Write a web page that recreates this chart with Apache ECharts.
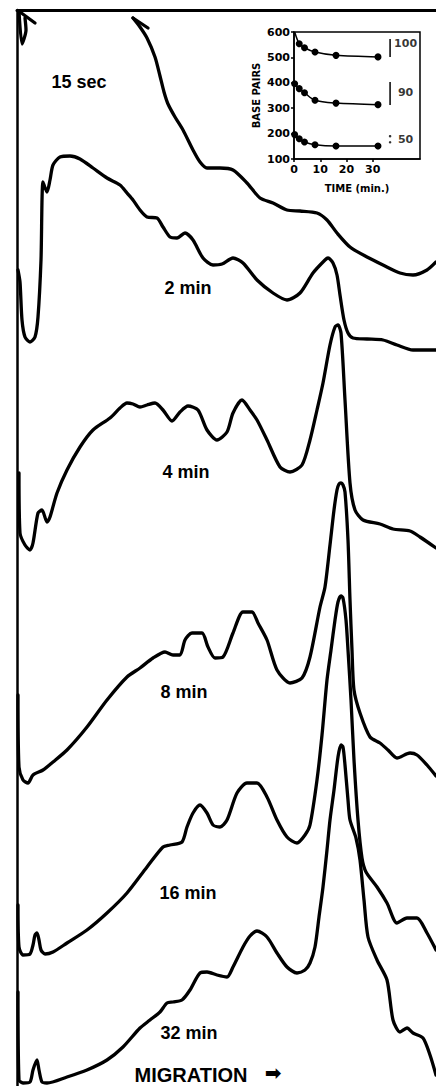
<!DOCTYPE html>
<html>
<head>
<meta charset="utf-8">
<script src="https://cdn.jsdelivr.net/npm/echarts@6/dist/echarts.min.js"></script>
<style>
html,body{margin:0;padding:0;background:#fff;}
#chart{width:436px;height:1086px;}
</style>
</head>
<body>
<div id="chart"></div>
<script>
// ---- Densitometer traces: [migration position, stacked signal] (arbitrary scan units) ----
const trace15s = [[116,1068],[123,1059],[130,1048],[138,1029],[143,1010],[147,994],[151,982],[158,969],[166,956],[176,936],[183,924],[190,918],[203,918],[216,916],[230,903],[243,888],[256,883],[270,876],[283,875],[300,873],[310,866],[320,853],[333,839],[350,829],[366,821],[383,813],[396,811],[410,816],[419,824]];
const trace15sArrow = [[116,1068],[131,1058]];
const trace15sStart = [[2,1075],[5,1042],[9,1056],[8,1068]];
const trace15sStartTick = [[3,1074],[18,1063]];
const trace2m = [[1,816],[3,804],[5,766],[8,749],[13,744],[18,749],[21,769],[24,826],[26,904],[30,894],[33,906],[36,921],[43,929],[53,930],[63,927],[76,918],[90,908],[103,901],[110,893],[116,886],[123,876],[130,869],[140,868],[146,859],[153,849],[160,848],[168,853],[176,846],[186,828],[196,821],[205,822],[216,828],[226,823],[240,806],[256,793],[270,786],[283,793],[296,813],[308,826],[311,828],[316,823],[320,811],[323,791],[327,766],[331,753],[336,748],[350,747],[366,746],[380,741],[396,736],[419,736]];
const trace4m = [[2,613],[3,553],[8,541],[13,536],[16,543],[21,573],[25,576],[30,564],[33,569],[40,593],[50,616],[63,639],[76,656],[93,668],[103,678],[110,683],[116,682],[123,679],[130,681],[138,683],[146,676],[155,665],[163,674],[171,680],[181,676],[190,656],[200,646],[210,654],[216,673],[225,686],[233,676],[240,666],[250,646],[263,619],[273,614],[285,621],[293,646],[300,676],[306,703],[313,741],[318,759],[321,761],[324,753],[328,686],[333,603],[338,576],[346,566],[363,562],[376,557],[393,555],[403,549],[419,538]];
const trace8m = [[1,391],[2,319],[6,306],[11,303],[16,311],[26,316],[36,324],[50,336],[70,359],[90,386],[110,409],[123,418],[136,428],[148,434],[156,431],[163,431],[168,446],[175,453],[185,453],[191,439],[198,428],[206,429],[216,453],[226,474],[235,474],[241,463],[250,446],[260,416],[273,403],[285,408],[293,429],[303,479],[308,499],[313,541],[317,576],[320,596],[322,602],[324,603],[326,601],[328,594],[331,546],[333,486],[335,436],[337,396],[343,373],[353,349],[363,343],[371,336],[380,328],[393,333],[400,331],[410,321],[419,310]];
const trace16m = [[1,181],[2,139],[6,131],[13,132],[16,141],[18,151],[20,153],[22,146],[24,136],[28,132],[36,134],[50,143],[70,156],[90,173],[110,193],[130,219],[146,239],[153,241],[165,244],[170,259],[176,273],[183,281],[190,273],[196,261],[203,259],[210,266],[220,293],[230,303],[240,303],[250,289],[260,266],[270,249],[280,243],[288,251],[293,261],[300,306],[305,351],[310,406],[314,436],[318,466],[321,484],[324,490],[326,488],[329,466],[331,436],[334,386],[337,326],[341,266],[345,228],[349,214],[360,199],[370,183],[380,163],[390,168],[400,168],[410,153],[419,136]];
const trace32m = [[1,94],[2,6],[6,3],[13,4],[16,16],[20,26],[22,16],[25,4],[30,3],[50,9],[70,16],[90,26],[106,39],[123,58],[133,66],[143,74],[150,83],[156,84],[165,86],[173,96],[183,113],[190,114],[200,111],[210,109],[216,119],[226,139],[233,150],[240,155],[250,149],[260,133],[270,119],[280,113],[288,116],[293,123],[298,139],[302,169],[306,199],[310,236],[313,266],[317,296],[321,329],[324,341],[326,339],[328,321],[331,286],[333,266],[339,248],[343,226],[347,186],[351,149],[360,126],[370,106],[376,66],[383,54],[390,58],[396,53],[406,48],[413,31],[419,11]];

// ---- Inset: fragment size (base pairs) vs time (min) ----
const insetTimes = [0.25, 2, 4, 8, 16, 32];
const bp100 = [600, 554, 538, 521, 508, 502];
const bp90  = [396, 377, 361, 331, 320, 314];
const bp50  = [196, 180, 167, 156, 151, 151];
const insetXTicks = [0, 10, 20, 30];
const bandLabels = ['100', '90', '50'];
const bandLabelBp = [555, 360, 175];
const band100 = [[36.6, 572], [36.6, 502]];
const band90 = [[36.6, 403], [36.6, 313]];
const band50 = [[36.6, 190], [36.6, 166]];

const traceLabels = ['15 sec', '2 min', '4 min', '8 min', '16 min', '32 min'];

function pairs(xs, ys, firstNoSymbol) {
  return xs.map((x, i) => (firstNoSymbol && i === 0) ? { value: [x, ys[i]], symbol: 'none' } : [x, ys[i]]);
}

const traceStyle = { color: '#000', width: 3.3, cap: 'round', join: 'round' };
function trace(name, data) {
  return { name, type: 'line', xAxisIndex: 0, yAxisIndex: 0, data, showSymbol: false, symbol: 'none',
    smooth: 0.25, clip: false, lineStyle: traceStyle, silent: true, animation: false };
}
function insetLine(data) {
  return { type: 'line', xAxisIndex: 1, yAxisIndex: 1, data, symbol: 'circle', symbolSize: 7,
    itemStyle: { color: '#000' }, lineStyle: { color: '#000', width: 1.5 }, smooth: 0.3, animation: false, clip: false };
}

const chart = echarts.init(document.getElementById('chart'), null, { renderer: 'svg' });
const lblFont = 'bold 18px "Liberation Sans", Arial, sans-serif';
const labelPos = [[79,82],[188,288],[186,472],[184,692],[188,893],[189,1033]];
const graphics = traceLabels.map((t, i) => ({
  type: 'text', x: labelPos[i][0], y: labelPos[i][1],
  style: { text: t, font: lblFont, fill: '#000', align: 'center', verticalAlign: 'middle' }
}));
graphics.push({ type: 'text', x: 191, y: 1075, style: { text: 'MIGRATION', font: 'bold 20px "Liberation Sans", Arial, sans-serif', fill: '#000', align: 'center', verticalAlign: 'middle' } });
graphics.push({ type: 'text', x: 273, y: 1073, style: { text: '➡', font: 'bold 20px "DejaVu Sans", sans-serif', fill: '#000', align: 'center', verticalAlign: 'middle' } });

chart.setOption({
  animation: false,
  backgroundColor: '#fff',
  grid: [
    { left: 17, right: 0, top: 10, bottom: 0 },
    { left: 294, top: 32, width: 126, height: 127, show: true, borderColor: '#000', borderWidth: 1.5 }
  ],
  xAxis: [
    { gridIndex: 0, type: 'value', min: 0, max: 419, position: 'top',
      axisLine: { show: true, onZero: false, lineStyle: { color: '#000', width: 3 } },
      axisTick: { show: false }, axisLabel: { show: false }, splitLine: { show: false } },
    { gridIndex: 1, type: 'value', min: 0, max: 48, interval: 10, name: 'TIME (min.)',
      nameLocation: 'middle', nameGap: 24,
      nameTextStyle: { fontFamily: 'DejaVu Sans', fontWeight: 'bold', fontSize: 10, color: '#000' },
      axisLine: { onZero: false, lineStyle: { color: '#000', width: 1.5 } },
      axisTick: { show: true, length: 3, customValues: insetXTicks, lineStyle: { color: '#000', width: 1.5 } },
      axisLabel: { customValues: insetXTicks, margin: 5, fontFamily: 'DejaVu Sans', fontWeight: 'bold', fontSize: 11, color: '#000' },
      splitLine: { show: false } }
  ],
  yAxis: [
    { gridIndex: 0, type: 'value', min: 0, max: 1076,
      axisLine: { show: true, onZero: false, lineStyle: { color: '#000', width: 2.5 } },
      axisTick: { show: false }, axisLabel: { show: false }, splitLine: { show: false } },
    { gridIndex: 1, type: 'value', min: 100, max: 600, interval: 100, name: 'BASE PAIRS',
      nameLocation: 'middle', nameRotate: 90, nameGap: 33,
      nameTextStyle: { fontFamily: 'DejaVu Sans', fontWeight: 'bold', fontSize: 10, color: '#000' },
      axisLine: { show: true, onZero: false, lineStyle: { color: '#000', width: 1.5 } },
      axisTick: { show: true, length: 3, lineStyle: { color: '#000', width: 1.5 } },
      axisLabel: { margin: 4, fontFamily: 'DejaVu Sans', fontWeight: 'bold', fontSize: 11, color: '#000' },
      splitLine: { show: false } }
  ],
  series: [
    trace('15 sec', trace15s),
    trace('15 sec arrow', trace15sArrow),
    trace('15 sec start', trace15sStart),
    trace('15 sec tick', trace15sStartTick),
    trace('2 min', trace2m),
    trace('4 min', trace4m),
    trace('8 min', trace8m),
    trace('16 min', trace16m),
    trace('32 min', trace32m),
    insetLine(pairs(insetTimes, bp100, true)),
    insetLine(pairs(insetTimes, bp90, false)),
    insetLine(pairs(insetTimes, bp50, false)),
    { type: 'line', xAxisIndex: 1, yAxisIndex: 1, data: band100, symbol: 'none', lineStyle: { color: '#000', width: 1.5 } },
    { type: 'line', xAxisIndex: 1, yAxisIndex: 1, data: band90, symbol: 'none', lineStyle: { color: '#000', width: 1.5 } },
    { type: 'scatter', xAxisIndex: 1, yAxisIndex: 1, data: band50, symbol: 'circle', symbolSize: 2.5, itemStyle: { color: '#000' } },
    { type: 'scatter', xAxisIndex: 1, yAxisIndex: 1, symbolSize: 0,
      data: bandLabels.map((t, i) => ({ value: [42.5, bandLabelBp[i]], label: { formatter: t } })),
      label: { show: true, position: 'inside', fontFamily: 'DejaVu Sans', fontWeight: 'bold', fontSize: 11, color: '#000' } }
  ],
  graphic: graphics
});
</script>
</body>
</html>
